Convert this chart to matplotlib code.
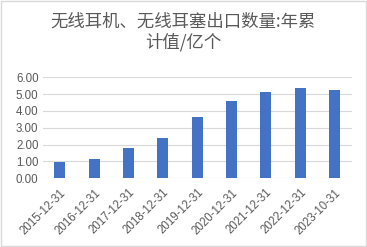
import matplotlib
matplotlib.use("Agg")
import matplotlib.pyplot as plt
import matplotlib.patches as mpatches

plt.rcParams['font.family'] = ['Noto Sans CJK SC', 'DejaVu Sans']

dates = ["2015-12-31", "2016-12-31", "2017-12-31", "2018-12-31", "2019-12-31",
         "2020-12-31", "2021-12-31", "2022-12-31", "2023-10-31"]
values = [0.97, 1.15, 1.80, 2.38, 3.64, 4.59, 5.13, 5.37, 5.25]
yticks = [0, 1, 2, 3, 4, 5, 6]
title = "无线耳机、无线耳塞出口数量:年累\n计值/亿个"

fig = plt.figure(figsize=(3.67, 2.47), dpi=100)
ax = fig.add_axes([42.7 / 367, 1 - 178.3 / 247, 309 / 367, 101 / 247])

x = range(len(dates))
ax.bar(x, values, width=0.32, color="#4472C4", zorder=3)
ax.set_xlim(-0.5, len(dates) - 0.5)
ax.set_ylim(0, 6)
ax.set_yticks(yticks)
ax.set_yticklabels(["%.2f" % v for v in yticks], fontsize=8.3, color="#595959",
                   family=['Liberation Sans', 'DejaVu Sans'])
ax.set_xticks(list(x))
ax.set_xticklabels(dates, rotation=45, ha="right", rotation_mode="anchor",
                   fontsize=8.3, color="#595959", family=['Liberation Sans', 'DejaVu Sans'])
ax.tick_params(axis="both", length=0, pad=3)
ax.tick_params(axis="x", pad=6)
ax.grid(axis="y", color="#d9d9d9", linewidth=0.8, zorder=0)
for s in ax.spines.values():
    s.set_visible(False)

fig.text(0.5, 1 - 32 / 247, title, ha="center", va="center", fontsize=12.5,
         color="#595959", linespacing=1.1)

# light frame around the whole chart
fig.patches.append(mpatches.Rectangle((0.002, 0.003), 0.995, 0.993, transform=fig.transFigure,
                                      fill=False, edgecolor="#d9d9d9", linewidth=1))

fig.savefig("out.png", dpi=100)
